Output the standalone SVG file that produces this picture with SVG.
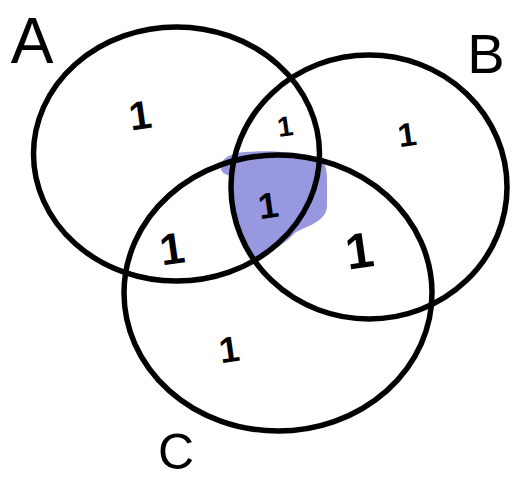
<svg xmlns="http://www.w3.org/2000/svg" width="514" height="481" viewBox="0 0 514 481">
<style>
.set{fill:none;stroke:#000;stroke-width:5.5}
.num{font-family:"Liberation Sans",Arial,sans-serif;font-weight:bold;fill:#000;text-anchor:middle}
.lbl{font-family:"Liberation Sans",Arial,sans-serif;fill:#000;text-anchor:middle}
</style>
<rect width="514" height="481" fill="#fff"/>
<g id="highlight">
<path d="M221,168 C220,158 232,153 245,152 C270,150 300,152 318,158 C326,162 327,170 327,180 L327,206 C327,216 318,223 300,230 L296,232 C285,244 270,253 255,258 C244,240 235,222 231,200 C230,190 230,180 231,176 C226,175 221,173 221,168 Z" fill="#9898e0"/>
</g>
<g id="connectors"></g>
<g id="set-A">
<ellipse class="set" cx="176.5" cy="154" rx="143" ry="127"/>
<text class="lbl" x="32" y="63" font-size="64">A</text>
</g>
<g id="set-B">
<ellipse class="set" cx="369" cy="187" rx="138" ry="132"/>
<text class="lbl" x="486" y="73" font-size="56">B</text>
</g>
<g id="set-C">
<ellipse class="set" cx="278" cy="293" rx="154" ry="138"/>
<text class="lbl" x="176" y="469" font-size="50">C</text>
</g>
<g id="regions">
<text class="num" x="140" y="129" font-size="40" transform="rotate(-8 140 114)">1</text>
<text class="num" x="285" y="136" font-size="28" transform="rotate(-8 285 126)">1</text>
<text class="num" x="407" y="146" font-size="33" transform="rotate(-8 407 134)">1</text>
<text class="num" x="268" y="218" font-size="36" transform="rotate(-8 268 205)">1</text>
<text class="num" x="172" y="264" font-size="44" transform="rotate(-8 172 248)">1</text>
<text class="num" x="359" y="268" font-size="50" transform="rotate(-8 359 248)">1</text>
<text class="num" x="229" y="362" font-size="36" transform="rotate(-8 229 349)">1</text>
</g>
</svg>
